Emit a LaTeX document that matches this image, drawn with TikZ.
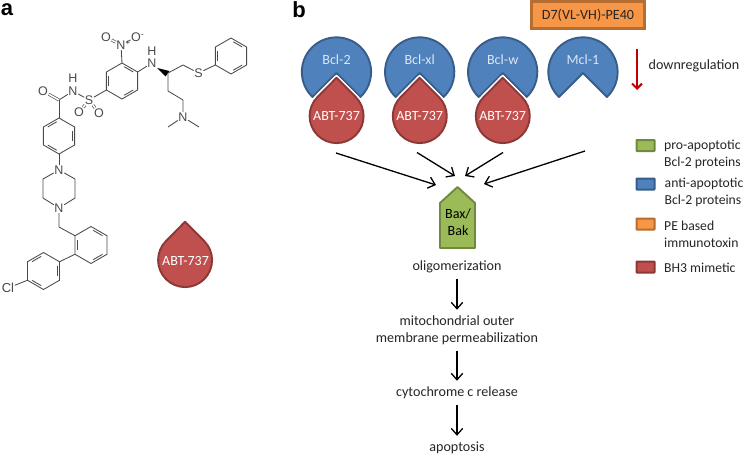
\documentclass[tikz,border=0pt]{standalone}
\usepackage{fontspec}
\setmainfont{Carlito}
\newfontfamily\chemfont{Liberation Sans}
\usetikzlibrary{arrows.meta}
\definecolor{bluefill}{HTML}{4F81BD}\definecolor{blueline}{HTML}{385D8A}
\definecolor{redfill}{HTML}{C0504D}\definecolor{redline}{HTML}{8C3836}
\definecolor{greenfill}{HTML}{9BBB59}\definecolor{greenline}{HTML}{71893F}
\definecolor{orangefill}{HTML}{F79646}\definecolor{orangeline}{HTML}{B66D31}
\definecolor{txt}{HTML}{262626}\definecolor{bond}{HTML}{4A4A4A}
\definecolor{darkred}{HTML}{C00000}\definecolor{pale}{HTML}{DCE6F2}
\tikzset{
 lab/.style={font=\fontsize{14.1}{17}\selectfont,text=txt,inner sep=0pt,align=center},
 leg/.style={lab,anchor=west,align=left,font=\fontsize{13.7}{17}\selectfont},
 whitelab/.style={font=\fontsize{14}{17}\selectfont,text=white,inner sep=0pt},
 palelab/.style={font=\fontsize{14.1}{17}\selectfont,text=pale,inner sep=0pt},
 panel/.style={font=\chemfont\bfseries\fontsize{22}{22}\selectfont,inner sep=0pt},
 atom/.style={font=\chemfont\fontsize{12.5}{12.5}\selectfont,text=bond,inner sep=.5pt},
 chem/.style={draw=bond,line width=.85pt,line join=round},
 dbl/.style={chem,double=white,double distance=1.6pt,line width=.65pt},
 flow/.style={draw=black,line width=1.3pt,-{Straight Barb[length=6.5pt,width=11.5pt,line width=1.3pt]}},
 down/.style={flow,shorten <=6pt,shorten >=6pt},
 swatch/.style={draw,line width=2pt,minimum width=18pt,minimum height=11pt,inner sep=0pt,rounded corners=.5pt},
}
\newcommand{\pacshape}[2]{%
 \fill[bluefill,draw=blueline,line width=1.9pt,line join=round]
  (#1,#2+1) -- (#1-24,#2+25) arc (133.8:406.2:34.65) -- cycle;}
\newcommand{\dropshape}[2]{%
 \path[draw=white,line width=5pt,line join=round]
  (#1,#2-38.2) -- (#1-19,#2-19) arc (225:-45:27) -- cycle;
 \fill[redfill,draw=redline,line width=1.9pt,line join=round]
  (#1,#2-38.2) -- (#1-19,#2-19) arc (225:-45:27) -- cycle;}
\newcommand{\benz}[5]{%
 \foreach \i in {1,...,6}{\coordinate (#1-\i) at ({#2+#4*sin(60*(\i-1))},{#3-#4*cos(60*(\i-1))});}
 \draw[chem] (#1-1)--(#1-2)--(#1-3)--(#1-4)--(#1-5)--(#1-6)--cycle;
 \foreach \k in {0,2,4}{\draw[chem] ({#2+.8*#4*sin(60*(\k+#5)+9)},{#3-.8*#4*cos(60*(\k+#5)+9)})
   -- ({#2+.8*#4*sin(60*(\k+#5)+51)},{#3-.8*#4*cos(60*(\k+#5)+51)});}}
\begin{document}
\begin{tikzpicture}[x=1pt,y=1pt,yscale=-1]
\useasboundingbox (0,0) rectangle (745,455);
\fill[white] (0,0) rectangle (745,455);
\node[panel] (pa) at (7,10) {a};
\node[panel] (pb) at (299,10) {b};
% ---------- molecule
\benz{ra}{122}{81}{18}{0}
\benz{rb}{231}{56}{18}{0}
\benz{rc}{59}{136}{18}{1}
\benz{rd}{91}{245}{18.5}{0}
\benz{re}{43.5}{271}{18.5}{1}
\node[atom] (nn) at (121,45) {N\rlap{\raisebox{3.5pt}{\fontsize{8}{8}\selectfont +}}};
\node[atom] (o1) at (106,37) {O};
\node[atom] (o2) at (136,37) {O\rlap{\raisebox{3.5pt}{\fontsize{9}{9}\selectfont -}}};
\node[atom] (nh) at (152,63) {N};
\node[atom] (hh) at (152,51.5) {H};
\coordinate (cc) at (168,73);
\coordinate (c2) at (183,65);
\node[atom] (ss) at (198.5,73) {S};
\coordinate (c3) at (168,91);
\coordinate (c4) at (183,100);
\node[atom] (n3) at (183,117) {N};
\coordinate (m1) at (168,127);
\coordinate (m2) at (199,127);
\node[atom] (s2) at (89,100) {S};
\node[atom] (o3) at (79,112.5) {O};
\node[atom] (o4) at (99,113) {O};
\node[atom] (n4) at (73,91) {N};
\node[atom] (h4) at (73,78.5) {H};
\coordinate (co) at (59,100);
\node[atom] (o5) at (43,91) {O};
\node[atom] (n5) at (59,170) {N};
\coordinate (p1) at (75,179);
\coordinate (p2) at (75,198);
\node[atom] (n6) at (59,208) {N};
\coordinate (p3) at (43,198);
\coordinate (p4) at (43,179);
\coordinate (ch) at (59,227);
\node[atom,font=\chemfont\fontsize{13}{13}\selectfont] (cl) at (8,288) {Cl};
\draw[chem] (nn)--(ra-1);
\draw[dbl] (nn)--(o1);
\draw[chem] (nn)--(o2);
\draw[chem] (ra-2)--(nh);
\fill[black] (nh.south east) -- (165.5,76.5) -- (169.5,71) -- cycle;
\draw[chem] (c3)--(cc)--(c2)--(ss);
\draw[chem] (ss)--(rb-5);
\draw[chem] (c3)--(c4)--(n3);
\draw[chem] (m1)--(n3)--(m2);
\draw[chem] (ra-5)--(s2);
\draw[dbl] (s2)--(o3);
\draw[dbl] (s2)--(o4);
\draw[chem] (s2)--(n4)--(co);
\draw[dbl] (co)--(o5);
\draw[chem] (co)--(rc-1);
\draw[chem] (rc-4)--(n5);
\draw[chem] (n5)--(p1)--(p2)--(n6)--(p3)--(p4)--(n5);
\draw[chem] (n6)--(ch)--(rd-6);
\draw[chem] (rd-5)--(re-2);
\draw[chem] (re-5)--(cl);
% ---------- free drop
\dropshape{185}{260}
\node[whitelab] (abt0) at (185.5,261) {ABT-737};
% ---------- top row
\node[draw=orangeline,fill=orangefill,line width=2.2pt,minimum width=113pt,minimum height=27pt,inner sep=0pt,lab] (d7) at (588,15) {D7(VL-VH)-PE40};
\pacshape{336.5}{72}
\pacshape{419.7}{72}
\pacshape{502.7}{72}
\pacshape{583}{72}
\dropshape{336.5}{116}
\dropshape{419.7}{116}
\dropshape{502.7}{116}
\node[palelab] (b2) at (336.5,60) {Bcl-2};
\node[palelab] (bx) at (419.7,60) {Bcl-xl};
\node[palelab] (bw) at (502.7,60) {Bcl-w};
\node[palelab] (mc) at (583,60) {Mcl-1};
\node[whitelab] (a1) at (336.5,116) {ABT-737};
\node[whitelab] (a2) at (419.7,116) {ABT-737};
\node[whitelab] (a3) at (502.7,116) {ABT-737};
\coordinate (ds) at (637,49);
\coordinate (de) at (637,90);
\draw[draw=darkred,line width=2pt,-{Straight Barb[length=5pt,width=10pt,line width=2pt]}] (ds)--(de);
\node[lab] (dr) at (694,66) {downregulation};
% ---------- Bax/Bak
\fill[greenfill,draw=greenline,line width=1.9pt,line join=round]
 (457.5,187) -- (475,203) -- (475,248) -- (440,248) -- (440,203) -- cycle;
\node[lab,text=black] (bax) at (458,222.5) {Bax/\\Bak};
\coordinate (s1) at (336,153); \coordinate (e1) at (436,185);
\coordinate (s2a) at (417,152.5); \coordinate (e2) at (455,176);
\coordinate (s3) at (503,152.5); \coordinate (e3) at (465,176);
\coordinate (s4) at (585,151); \coordinate (e4) at (484,184);
\draw[flow] (s1)--(e1);
\draw[flow] (s2a)--(e2);
\draw[flow] (s3)--(e3);
\draw[flow] (s4)--(e4);
% ---------- cascade
\node[lab] (ol) at (457,267) {oligomerization};
\node[lab] (mo) at (457,330.5) {mitochondrial outer\\membrane permeabilization};
\node[lab] (cy) at (457,393) {cytochrome c release};
\node[lab] (ap) at (457,448) {apoptosis};
\draw[down] (ol)--(mo);
\draw[down] (mo)--(cy);
\draw[down] (cy)--(ap);
% ---------- legend
\node[swatch,fill=greenfill,draw=greenline] (k1) at (645.5,145.5) {};
\node[swatch,fill=bluefill,draw=blueline] (k2) at (645.5,184) {};
\node[swatch,fill=orangefill,draw=orangeline] (k3) at (645.5,224) {};
\node[swatch,fill=redfill,draw=redline] (k4) at (645.5,267) {};
\node[leg] (t1) at (664,154.5) {pro-apoptotic\\Bcl-2 proteins};
\node[leg] (t2) at (664.5,192) {anti-apoptotic\\Bcl-2 proteins};
\node[leg] (t3) at (664,234) {PE based\\immunotoxin};
\node[leg] (t4) at (664,268) {BH3 mimetic};
\end{tikzpicture}
\end{document}
